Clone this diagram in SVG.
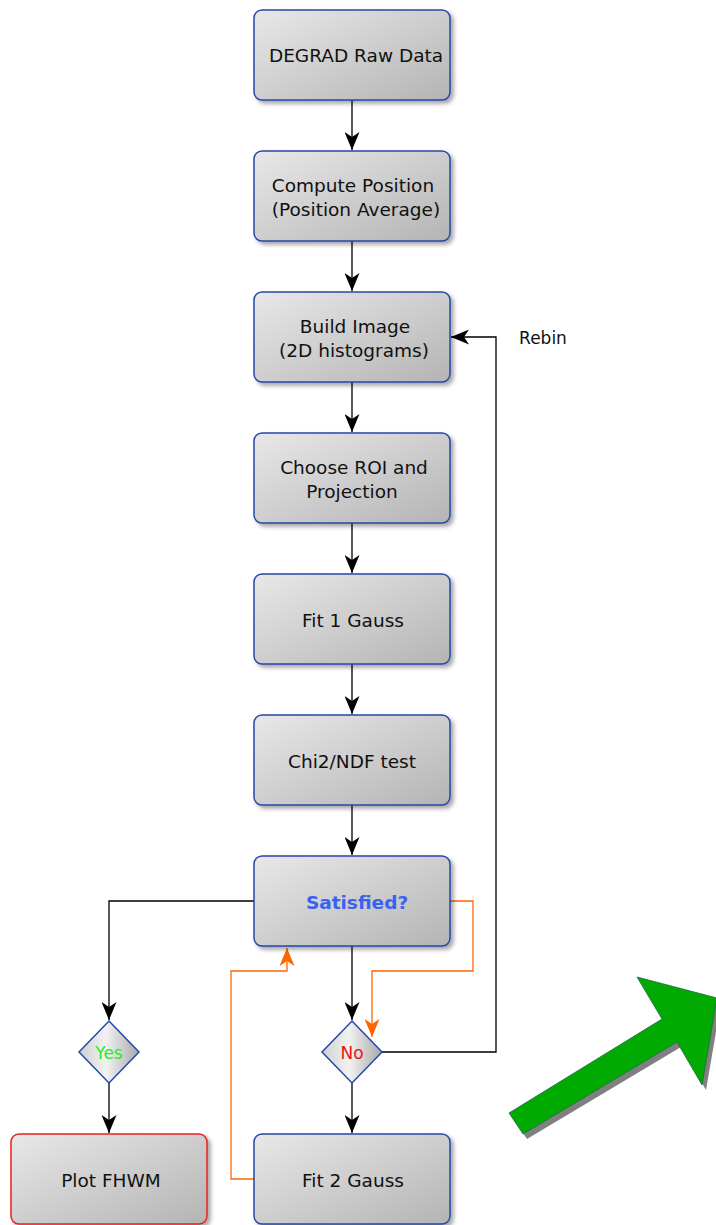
<svg xmlns="http://www.w3.org/2000/svg" width="716" height="1225" viewBox="0 0 716 1225">
<defs>
<linearGradient id="boxg" x1="0" y1="0" x2="1" y2="1">
<stop offset="0" stop-color="#e8e8e8"/>
<stop offset="1" stop-color="#b4b4b4"/>
</linearGradient>
<linearGradient id="diag" x1="0" y1="0" x2="1" y2="0">
<stop offset="0" stop-color="#cfcfcf"/>
<stop offset="0.45" stop-color="#f2f2f2"/>
<stop offset="1" stop-color="#a8a8a8"/>
</linearGradient>
<filter id="sh" x="-10%" y="-10%" width="130%" height="130%">
<feGaussianBlur in="SourceAlpha" stdDeviation="2"/>
<feOffset dx="3" dy="3" result="b"/>
<feComponentTransfer><feFuncA type="linear" slope="0.35"/></feComponentTransfer>
<feMerge><feMergeNode/><feMergeNode in="SourceGraphic"/></feMerge>
</filter>
<marker id="ab" viewBox="0 0 18 15" refX="18" refY="7.5" markerWidth="18" markerHeight="15" markerUnits="userSpaceOnUse" orient="auto">
<path d="M0,0 L18,7.5 L0,15 L5,7.5 Z" fill="#000"/>
</marker>
<marker id="ao" viewBox="0 0 18 15" refX="18" refY="7.5" markerWidth="18" markerHeight="15" markerUnits="userSpaceOnUse" orient="auto">
<path d="M0,0 L18,7.5 L0,15 L5,7.5 Z" fill="#ff6600"/>
</marker>
</defs>
<style>
.box{fill:url(#boxg);stroke:#2448a8;stroke-width:1.5;filter:url(#sh)}
.red{stroke:#e82020}
.dia{fill:url(#diag);stroke:#2448a8;stroke-width:1.5}
text{font-family:"DejaVu Sans","Liberation Sans",sans-serif;font-size:18.5px;fill:#111;text-anchor:middle}
.k{fill:none;stroke:#000;stroke-width:1.3}
.o{fill:none;stroke:#ff6600;stroke-width:1.3}
</style>
<g id="connectors">
<path class="k" d="M352,100 V150" marker-end="url(#ab)"/>
<path class="k" d="M352,241 V291" marker-end="url(#ab)"/>
<path class="k" d="M352,382 V432" marker-end="url(#ab)"/>
<path class="k" d="M352,523 V573" marker-end="url(#ab)"/>
<path class="k" d="M352,664 V714" marker-end="url(#ab)"/>
<path class="k" d="M352,805 V855" marker-end="url(#ab)"/>
<path class="k" d="M352,946 V1020" marker-end="url(#ab)"/>
<path class="k" d="M254,901 H109 V1020" marker-end="url(#ab)"/>
<path class="k" d="M109,1083 V1133" marker-end="url(#ab)"/>
<path class="k" d="M352,1083 V1133" marker-end="url(#ab)"/>
<path class="k" d="M382,1052 H496 V337 H451" marker-end="url(#ab)"/>
<path class="o" d="M450,901 H473 V971 H372 V1037" marker-end="url(#ao)"/>
<path class="o" d="M254,1179 H231 V971 H287 V948" marker-end="url(#ao)"/>
<text x="543" y="344" style="font-size:17px">Rebin</text>
</g>
<g id="n1"><rect class="box" x="254" y="10" width="196" height="90" rx="8"/><text x="356" y="62">DEGRAD Raw Data</text></g>
<g id="n2"><rect class="box" x="254" y="151" width="196" height="90" rx="8"/><text x="353" y="192">Compute Position</text><text x="356" y="216">(Position Average)</text></g>
<g id="n3"><rect class="box" x="254" y="292" width="196" height="90" rx="8"/><text x="355" y="333">Build Image</text><text x="354" y="357">(2D histograms)</text></g>
<g id="n4"><rect class="box" x="254" y="433" width="196" height="90" rx="8"/><text x="354" y="474">Choose ROI and</text><text x="352" y="498">Projection</text></g>
<g id="n5"><rect class="box" x="254" y="574" width="196" height="90" rx="8"/><text x="353" y="627">Fit 1 Gauss</text></g>
<g id="n6"><rect class="box" x="254" y="715" width="196" height="90" rx="8"/><text x="352" y="768">Chi2/NDF test</text></g>
<g id="n7"><rect class="box" x="254" y="856" width="196" height="90" rx="8"/><text x="357" y="909" style="font-weight:bold;fill:#3a62f0">Satisfied?</text></g>
<g id="yes"><path class="dia" d="M109,1021 L139,1052 L109,1083 L79,1052 Z"/><text x="109" y="1059" style="fill:#22ee22;font-size:17px">Yes</text></g>
<g id="no"><path class="dia" d="M352,1021 L382,1052 L352,1083 L322,1052 Z"/><text x="352" y="1059" style="fill:#ee1111;font-size:17px">No</text></g>
<g id="plot"><rect class="box red" x="11" y="1134" width="196" height="90" rx="8"/><text x="111" y="1187">Plot FHWM</text></g>
<g id="fit2"><rect class="box" x="254" y="1134" width="196" height="90" rx="8"/><text x="353" y="1187">Fit 2 Gauss</text></g>
<g id="bigarrow">
<polygon points="513,1118 666,1024 641,982 721,1003 706,1090 681,1047 527,1139" fill="#808080"/>
<polygon points="509,1113 662,1019 637,977 717,998 702,1085 677,1042 523,1134" fill="#00aa00" stroke="#1a6a4a" stroke-width="0.8"/>
</g>
</svg>
